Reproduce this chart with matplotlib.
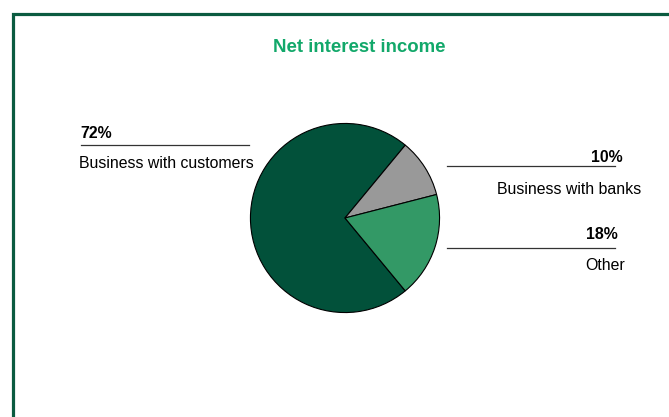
import matplotlib.pyplot as plt
from matplotlib.lines import Line2D

plt.rcParams['font.family'] = ['Liberation Sans', 'DejaVu Sans']

# net interest income split
segments = ['Business with customers', 'Business with banks', 'Other']
shares = [72, 10, 18]
colors = ['#02513A', '#999999', '#339966']

W, H = 669, 417
fig = plt.figure(figsize=(W / 100, H / 100), dpi=100)

def px(x, y):
    # pixel position from top-left -> figure fraction
    return x / W, 1 - y / H

# frame on the left and top
fig.add_artist(Line2D([13 / W, 13 / W, 1], [0, 1 - 13.5 / H, 1 - 13.5 / H],
                      transform=fig.transFigure, color='#0B5B40', lw=2.3,
                      solid_joinstyle='miter'))

fig.text(*px(359, 48), 'Net interest income', ha='center', va='center',
         fontsize=13.4, fontweight='bold', color='#12A86A')

cx, cy, r = 345, 218, 95.5
ax = fig.add_axes([(cx - r) / W, (H - cy - r) / H, 2 * r / W, 2 * r / H])
ax.pie(shares, colors=colors, startangle=-50.4, counterclock=False,
       wedgeprops=dict(edgecolor='black', linewidth=0.8))
ax.set_xlim(-1.01, 1.01)
ax.set_ylim(-1.01, 1.01)
ax.axis('off')

# label leaders
def leader(x0, x1, y):
    fig.add_artist(Line2D([x0 / W, x1 / W], [1 - y / H] * 2,
                          transform=fig.transFigure, color='#333333', lw=0.9))

fs = 11.4
leader(81, 249, 144.5)
fig.text(*px(80, 134), f'{shares[0]}%', ha='left', va='center',
         fontsize=fs, fontweight='bold')
fig.text(*px(79, 164), segments[0], ha='left', va='center', fontsize=fs)

leader(447, 615, 166.5)
fig.text(*px(623, 157.5), f'{shares[1]}%', ha='right', va='center',
         fontsize=fs, fontweight='bold')
fig.text(*px(641, 189.5), segments[1], ha='right', va='center', fontsize=fs)

leader(447, 615, 248.5)
fig.text(*px(618, 234.5), f'{shares[2]}%', ha='right', va='center',
         fontsize=fs, fontweight='bold')
fig.text(*px(625, 265.5), segments[2], ha='right', va='center', fontsize=fs)

fig.savefig('out.png', dpi=100)
